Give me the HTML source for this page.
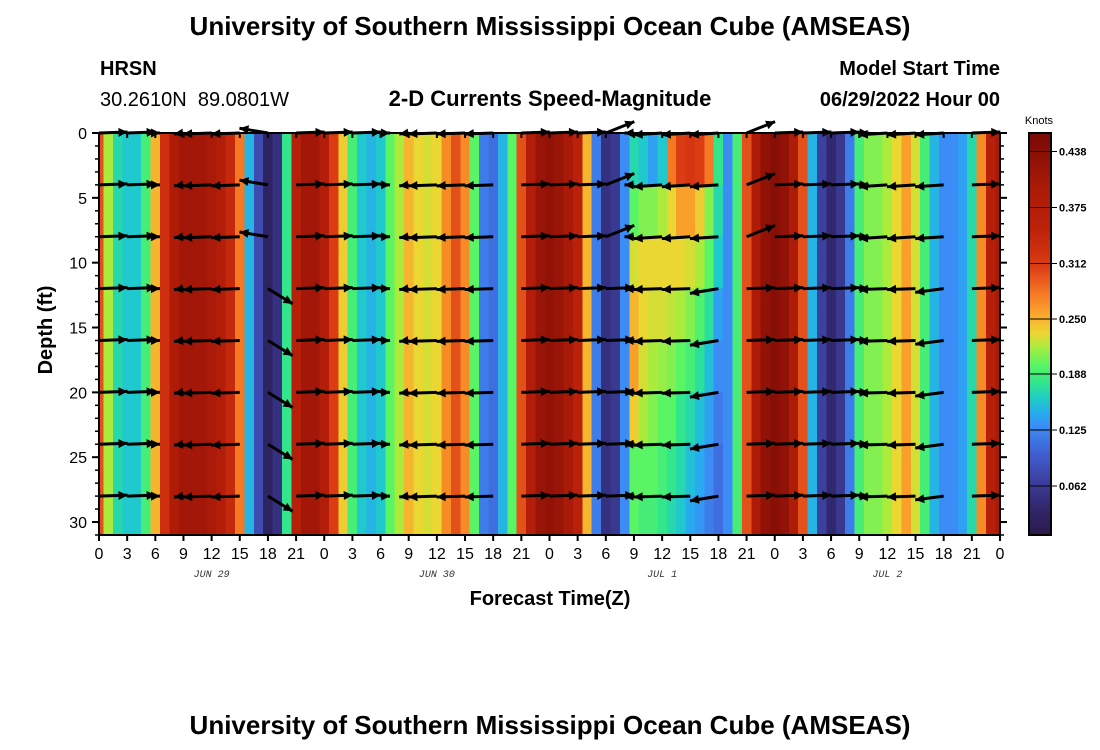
<!DOCTYPE html>
<html><head><meta charset="utf-8"><style>
body{margin:0;background:#fff;width:1100px;height:750px;overflow:hidden;font-family:"Liberation Sans",sans-serif}
svg{position:absolute;left:0;top:0}
</style></head><body>
<svg id="chart" width="1100" height="750" xmlns="http://www.w3.org/2000/svg">
<text x="550" y="35" text-anchor="middle" font-size="26" font-weight="bold">University of Southern Mississippi Ocean Cube (AMSEAS)</text>
<text x="100" y="75" font-size="20" font-weight="bold">HRSN</text>
<text x="100" y="106" font-size="20" style="white-space:pre">30.2610N  89.0801W</text>
<text x="550" y="106" text-anchor="middle" font-size="22" font-weight="bold">2-D Currents Speed-Magnitude</text>
<text x="1000" y="75" text-anchor="end" font-size="20" font-weight="bold">Model Start Time</text>
<text x="1000" y="106" text-anchor="end" font-size="20" font-weight="bold">06/29/2022 Hour 00</text>
<text transform="translate(52,330) rotate(-90)" text-anchor="middle" font-size="20" font-weight="bold">Depth (ft)</text>
<text x="550" y="605" text-anchor="middle" font-size="20" font-weight="bold">Forecast Time(Z)</text>
<text x="1039" y="124" text-anchor="middle" font-size="11">Knots</text>
<text x="550" y="734" text-anchor="middle" font-size="26" font-weight="bold">University of Southern Mississippi Ocean Cube (AMSEAS)</text>
<g id="heat"></g><g id="arrows"></g><g id="axes"></g><g id="cbar"></g>
</svg>
<script>
// hourly speed (knots), hours 0..96
const speeds = [0.3,0.22,0.17,0.16,0.16,0.19,0.25,0.33,0.39,0.41,0.41,0.41,0.4,0.38,0.34,0.28,0.15,0.08,0.03,0.05,0.18,0.37,0.41,0.41,0.38,0.31,0.24,0.19,0.16,0.15,0.16,0.2,0.22,0.25,0.235,0.23,0.235,0.27,0.3,0.27,0.2,0.12,0.11,0.15,0.2,0.3,0.38,0.42,0.43,0.42,0.4,0.36,0.25,0.12,0.05,0.06,0.13,
0.17,0.16,0.14,0.16,0.28,0.31,0.32,0.31,0.28,0.18,
0.13,0.19,0.3,0.39,0.43,0.44,0.43,0.39,0.3,0.15,0.07,0.04,0.06,0.12,0.19,0.21,0.21,0.22,0.235,0.26,0.23,0.19,0.15,0.13,0.13,0.14,0.17,0.27,0.37,0.4];
// depth-varying profile for hours 57..66, bands 0-4,4-8,...,28-31 ft
const profileStartHour = 57;
const profileH57 = [0.17,0.2,0.23,0.25,0.26,0.24,0.2,0.2];
const profileH58 = [0.16,0.21,0.235,0.235,0.23,0.22,0.2,0.19];
const profileH59 = [0.14,0.21,0.235,0.23,0.22,0.21,0.2,0.19];
const profileH60 = [0.16,0.22,0.235,0.23,0.215,0.2,0.19,0.18];
const profileH61 = [0.28,0.235,0.235,0.225,0.21,0.2,0.18,0.17];
const profileH62 = [0.31,0.26,0.235,0.22,0.2,0.18,0.17,0.16];
const profileH63 = [0.32,0.26,0.23,0.21,0.19,0.17,0.155,0.145];
const profileH64 = [0.31,0.24,0.22,0.195,0.175,0.155,0.145,0.135];
const profileH65 = [0.28,0.21,0.2,0.175,0.155,0.14,0.13,0.12];
const profileH66 = [0.18,0.17,0.16,0.14,0.13,0.12,0.11,0.11];
const profiles = [profileH57,profileH58,profileH59,profileH60,profileH61,profileH62,profileH63,profileH64,profileH65,profileH66];
const bandDepths = [0,4,8,12,16,20,24,28,31];
// vectors every 3 h (east / north components, knots)
const vecHours = [0,3,6,9,12,15,18,21,24,27,30,33,36,39,42,45,48,51,54,57,60,63,66,69,72,75,78,81,84,87,90,93,96];
const uShallow = [0.3,0.3,0.05,-0.1,-0.3,-0.3,-0.3,0.3,0.3,0.3,0.1,-0.1,-0.3,-0.3,-0.3,0.3,0.3,0.3,0.3,-0.1,-0.3,-0.3,-0.3,0.3,0.3,0.3,0.3,0.1,-0.3,-0.3,-0.3,0.3,0];
const vShallow = [0.01,0.01,0,-0.01,-0.01,-0.01,0.05,0.01,0.01,0.01,0,-0.01,-0.01,-0.01,-0.01,0.01,0.01,0.01,0.12,0,-0.02,-0.02,-0.02,0.12,0.01,0.01,0.01,0,-0.02,-0.02,-0.02,0.01,0];
const uDeep = [0.3,0.3,0.05,-0.1,-0.3,-0.3,0.26,0.3,0.3,0.3,0.1,-0.1,-0.3,-0.3,-0.3,0.3,0.3,0.3,0.3,-0.1,-0.3,-0.3,-0.3,0.3,0.3,0.3,0.3,0.1,-0.3,-0.3,-0.3,0.3,0];
const vDeep = [0.01,0.01,0,-0.01,-0.01,-0.01,-0.16,0.01,0.01,0.01,0,-0.01,-0.01,-0.01,-0.01,0.01,0.01,0.01,0.01,0,-0.01,-0.01,-0.05,0.01,0.01,0.01,0.01,0,-0.01,-0.01,-0.04,0.01,0];
const vecDepths = [0,4,8,12,16,20,24,28];
const xTickLabels = ["0","3","6","9","12","15","18","21","0","3","6","9","12","15","18","21","0","3","6","9","12","15","18","21","0","3","6","9","12","15","18","21","0"];
const dayLabels = ["JUN 29","JUN 30","JUL 1","JUL 2"];
const yTicks = [0,5,10,15,20,25,30];
const cbarTicks = [0.062,0.125,0.188,0.25,0.312,0.375,0.438];

const NS="http://www.w3.org/2000/svg";
const X0=99,X1=1000,Y0=133,Y1=535,HMAX=96,DMAX=31;
const VMIN=0.007,VMAX=0.459;
const xs=h=>X0+h*(X1-X0)/HMAX;
const ys=d=>Y0+d*(Y1-Y0)/DMAX;
const cmapStops=[[0.007,[45,25,70]],[0.04,[50,40,110]],[0.07,[60,65,160]],[0.10,[65,95,210]],[0.13,[60,140,245]],[0.145,[40,170,240]],[0.162,[30,205,200]],[0.18,[50,230,140]],[0.20,[90,245,100]],[0.22,[170,235,60]],[0.235,[235,215,50]],[0.255,[250,170,45]],[0.28,[245,120,35]],[0.31,[220,60,20]],[0.35,[190,35,10]],[0.40,[170,26,8]],[0.459,[120,10,5]]];
function cmap(v){
 if(v<=cmapStops[0][0])return `rgb(${cmapStops[0][1].join(',')})`;
 for(let i=1;i<cmapStops.length;i++){const a=cmapStops[i-1],b=cmapStops[i];
  if(v<=b[0]){const t=(v-a[0])/(b[0]-a[0]);const c=a[1].map((x,k)=>Math.round(x+(b[1][k]-x)*t));return `rgb(${c.join(',')})`;}}
 return `rgb(${cmapStops[cmapStops.length-1][1].join(',')})`;}
function mk(tag,at,parent){const e=document.createElementNS(NS,tag);for(const k in at)e.setAttribute(k,at[k]);parent.appendChild(e);return e;}
const heat=document.getElementById('heat');
heat.setAttribute('shape-rendering','crispEdges');
speeds.forEach((s,h)=>{
 const xa=Math.max(X0,xs(h-0.5)),xb=Math.min(X1,xs(h+0.5));
 const pi=h-profileStartHour;
 if(pi>=0&&pi<profiles.length){
  profiles[pi].forEach((v,j)=>{const r=mk('rect',{x:xa,y:ys(bandDepths[j]),width:xb-xa+0.6,height:ys(bandDepths[j+1])-ys(bandDepths[j])+0.6,fill:cmap(v)},heat);
  
  });
 } else {
  const r=mk('rect',{x:xa,y:Y0,width:xb-xa+0.6,height:Y1-Y0,fill:cmap(s)},heat);
  
  
 }
});
const arrows=document.getElementById('arrows');
const SC=95;
vecDepths.forEach(d=>{
 const U=d>=12?uDeep:uShallow,V=d>=12?vDeep:vShallow;
 vecHours.forEach((h,i)=>{
  const u=U[i],v=V[i];if(Math.abs(u)+Math.abs(v)<0.02)return;
  const x1=xs(h),y1=ys(d),x2=x1+u*SC,y2=y1-v*SC;
  const g=mk('g',{},arrows);
  
  
  mk('line',{x1:x1,y1:y1,x2:x2,y2:y2,stroke:'#000','stroke-width':3},g);
  const a=Math.atan2(y2-y1,x2-x1),L=9,W=4.5;
  const bx=x2-L*Math.cos(a),by=y2-L*Math.sin(a);
  mk('polygon',{points:`${x2},${y2} ${bx-W*Math.sin(a)},${by+W*Math.cos(a)} ${bx+W*Math.sin(a)},${by-W*Math.cos(a)}`,fill:'#000'},g);
 });
});
const axes=document.getElementById('axes');
const fr=mk('rect',{x:X0,y:Y0,width:X1-X0,height:Y1-Y0,fill:'none',stroke:'#000','stroke-width':2},axes);


xTickLabels.forEach((t,i)=>{const x=xs(i*3);
 mk('line',{x1:x,y1:Y1,x2:x,y2:Y1+6,stroke:'#000','stroke-width':2},axes);
 mk('line',{x1:x,y1:Y0,x2:x,y2:Y0+5,stroke:'#000','stroke-width':2},axes);
 const tx=mk('text',{x:x,y:Y1+24,'text-anchor':'middle','font-size':16},axes);tx.textContent=t;
 
 });
dayLabels.forEach((t,i)=>{const tx=mk('text',{x:xs(12+24*i),y:Y1+42,'text-anchor':'middle','font-size':10,'font-style':'italic','font-family':'Liberation Mono, monospace',fill:'#333'},axes);tx.textContent=t;
 
 });
for(let d=0;d<=DMAX;d++){const y=ys(d);
 mk('line',{x1:X0-4,y1:y,x2:X0,y2:y,stroke:'#000','stroke-width':1.5},axes);
 mk('line',{x1:X1,y1:y,x2:X1+4,y2:y,stroke:'#000','stroke-width':1.5},axes);}
yTicks.forEach(d=>{const y=ys(d);
 mk('line',{x1:X0-7,y1:y,x2:X0,y2:y,stroke:'#000','stroke-width':2},axes);
 mk('line',{x1:X1,y1:y,x2:X1+7,y2:y,stroke:'#000','stroke-width':2},axes);
 const tx=mk('text',{x:X0-12,y:y+6,'text-anchor':'end','font-size':16},axes);tx.textContent=d;
 
 });
const cb=document.getElementById('cbar');
const CX=1029,CW=22;
cb.setAttribute('shape-rendering','crispEdges');
for(let y=Y0;y<Y1;y+=2){const v=VMAX-(y-Y0)/(Y1-Y0)*(VMAX-VMIN);
 mk('rect',{x:CX,y:y,width:CW,height:2.5,fill:cmap(v)},cb);}
const cf=mk('rect',{x:CX,y:Y0,width:CW,height:Y1-Y0,fill:'none',stroke:'#000','stroke-width':2},cb);


const cy=v=>Y0+(VMAX-v)/(VMAX-VMIN)*(Y1-Y0);
cbarTicks.forEach(v=>{const y=cy(v);
 mk('line',{x1:CX,y1:y,x2:CX+CW+6,y2:y,stroke:'#000','stroke-width':1},cb);
 const tx=mk('text',{x:CX+CW+8,y:y+4,'font-size':11,'font-weight':'bold'},cb);tx.textContent=v.toFixed(3);
 
 });
</script>
</body></html>
